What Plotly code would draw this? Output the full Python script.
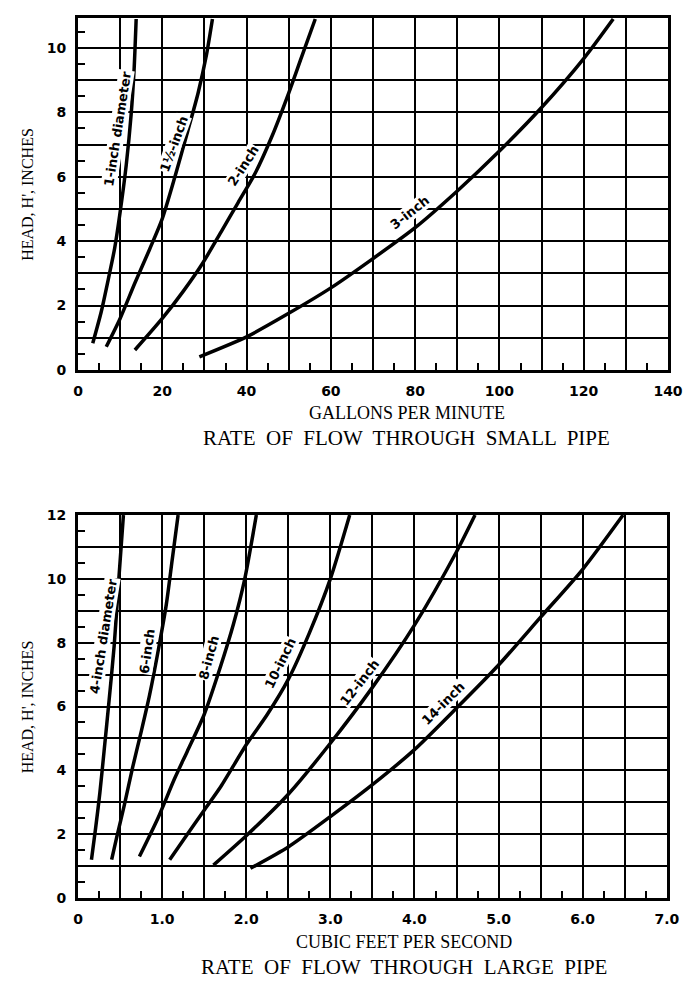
import plotly.graph_objects as go

# small pipe: gallons per minute vs head (inches)
gpm_1in = [3.5, 5.5, 7.0, 8.7, 9.9, 11.45, 12.6, 13.3, 13.8]
head_1in = [0.83, 1.8, 2.7, 3.78, 4.81, 6.37, 7.92, 9.3, 10.9]
gpm_1half = [6.7, 10.0, 13.5, 17.0, 20.0, 23.0, 26.0, 28.5, 30.5, 31.9]
head_1half = [0.72, 1.6, 2.7, 3.75, 4.7, 6.0, 7.4, 8.6, 9.8, 10.9]
gpm_2in = [13.5, 20, 25, 29.5, 34, 38, 42, 46, 50, 53, 56.3]
head_2in = [0.62, 1.6, 2.45, 3.3, 4.3, 5.2, 6.1, 7.25, 8.6, 9.7, 10.9]
gpm_3in = [28.8, 40, 50, 60, 70, 80, 90, 100, 110, 120, 127]
head_3in = [0.41, 1.03, 1.76, 2.55, 3.46, 4.42, 5.56, 6.8, 8.15, 9.67, 10.9]

# large pipe: cubic feet per second vs head (inches)
cfs_4in = [0.16, 0.21, 0.26, 0.31, 0.37, 0.43, 0.48, 0.54]
head_4in = [1.2, 2.2, 3.3, 4.6, 6.2, 7.9, 9.8, 12.0]
cfs_6in = [0.40, 0.46, 0.55, 0.65, 0.75, 0.85, 0.95, 1.05, 1.12, 1.19]
head_6in = [1.2, 1.9, 2.9, 4.1, 5.2, 6.35, 7.7, 9.2, 10.6, 12.0]
cfs_8in = [0.73, 0.95, 1.15, 1.3, 1.5, 1.7, 1.85, 1.98, 2.12]
head_8in = [1.3, 2.5, 3.75, 4.6, 5.75, 7.3, 8.6, 9.97, 12.0]
cfs_10in = [1.09, 1.3, 1.5, 1.7, 2.0, 2.25, 2.5, 2.75, 3.0, 3.23]
head_10in = [1.2, 2.0, 2.75, 3.5, 4.8, 5.75, 6.85, 8.3, 10.0, 12.0]
cfs_12in = [1.61, 2.0, 2.5, 3.0, 3.5, 4.0, 4.5, 4.72]
head_12in = [1.03, 1.95, 3.25, 4.85, 6.6, 8.55, 10.85, 12.0]
cfs_14in = [2.05, 2.5, 3.0, 3.5, 4.0, 4.5, 5.0, 5.5, 6.0, 6.48]
head_14in = [0.93, 1.6, 2.55, 3.55, 4.65, 5.95, 7.3, 8.8, 10.3, 12.0]

# curve labels: text, x, y, angle
small_labels = ["1-inch diameter", "1½-inch", "2-inch", "3-inch"]
small_label_x = [9.4, 22.9, 39.3, 78.7]
small_label_y = [7.5, 7.02, 6.34, 4.9]
small_label_angle = [-81, -70, -57, -38]
large_labels = ["4-inch diameter", "6-inch", "8-inch", "10-inch", "12-inch", "14-inch"]
large_label_x = [0.30, 0.823, 1.555, 2.40, 3.35, 4.34]
large_label_y = [8.2, 7.72, 7.54, 7.36, 6.74, 6.1]
large_label_angle = [-81, -82, -75, -64, -52, -45]

# ticks
small_x_vals = list(range(0, 141, 10))
small_x_text = ["0", "", "20", "", "40", "", "60", "", "80", "", "100", "", "120", "", "140"]
small_y_vals = list(range(0, 11))
small_y_text = ["0", "", "2", "", "4", "", "6", "", "8", "", "10"]
large_x_vals = [i * 0.5 for i in range(15)]
large_x_text = ["0", "", "1.0", "", "2.0", "", "3.0", "", "4.0", "", "5.0", "", "6.0", "", "7.0"]
large_y_vals = list(range(0, 13))
large_y_text = ["0", "", "2", "", "4", "", "6", "", "8", "", "10", "", "12"]

TICKFONT = dict(family="DejaVu Sans", size=14, color="black", weight="bold")
LABELFONT = dict(family="DejaVu Sans", size=13, color="black", weight="bold")
SERIF = "Liberation Serif"

fig = go.Figure()

small = [(gpm_1in, head_1in), (gpm_1half, head_1half), (gpm_2in, head_2in), (gpm_3in, head_3in)]
for x, y in small:
    fig.add_trace(go.Scatter(x=x, y=y, mode="lines", xaxis="x", yaxis="y",
                             line=dict(color="black", width=3.5, shape="spline", smoothing=0.7),
                             showlegend=False, hoverinfo="skip"))

large = [(cfs_4in, head_4in), (cfs_6in, head_6in), (cfs_8in, head_8in),
         (cfs_10in, head_10in), (cfs_12in, head_12in), (cfs_14in, head_14in)]
for x, y in large:
    fig.add_trace(go.Scatter(x=x, y=y, mode="lines", xaxis="x2", yaxis="y2",
                             line=dict(color="black", width=3.5, shape="spline", smoothing=0.7),
                             showlegend=False, hoverinfo="skip"))


def axis(vals, text, rng, minor_vals, domain, anchor):
    return dict(range=rng, domain=domain, anchor=anchor, automargin=False,
                tickmode="array", tickvals=vals, ticktext=text,
                showline=True, linecolor="black", linewidth=3, mirror=True,
                showgrid=True, gridcolor="black", gridwidth=2, zeroline=False,
                ticks="", ticklabelstandoff=6, tickfont=TICKFONT,
                minor=dict(tickvals=minor_vals, ticks="inside", ticklen=7,
                           tickwidth=2, tickcolor="black", showgrid=False))


fig.update_layout(
    width=695, height=992,
    margin=dict(l=78, r=27, t=18, b=94),
    paper_bgcolor="white", plot_bgcolor="white",
    xaxis=axis(small_x_vals, small_x_text, [0, 140], [v + 5 for v in range(0, 140, 10)], [0, 1], "y"),
    yaxis=axis(small_y_vals, small_y_text, [0, 10.93], [v + 0.5 for v in range(0, 11)], [0.6, 1], "x"),
    xaxis2=axis(large_x_vals, large_x_text, [0, 7], [v * 0.5 + 0.25 for v in range(14)], [0, 0.998], "y2"),
    yaxis2=axis(large_y_vals, large_y_text, [0, 12], [v + 0.5 for v in range(12)], [0, 0.4352], "x2"),
)

ann = []
for t, x, y, a in zip(small_labels, small_label_x, small_label_y, small_label_angle):
    ann.append(dict(text=t, x=x, y=y, xref="x", yref="y", textangle=a, showarrow=False,
                    font=LABELFONT, bgcolor="white", borderpad=0))
for t, x, y, a in zip(large_labels, large_label_x, large_label_y, large_label_angle):
    ann.append(dict(text=t, x=x, y=y, xref="x2", yref="y2", textangle=a, showarrow=False,
                    font=LABELFONT, bgcolor="white", borderpad=0))

# axis titles and captions
for yc in [0.8, 0.2176]:
    ann.append(dict(text="HEAD, H', INCHES", x=-0.085, y=yc, xref="paper", yref="paper",
                    xanchor="center", yanchor="middle", textangle=-90, showarrow=False,
                    font=dict(family=SERIF, size=16, color="black")))
captions = [("GALLONS PER MINUTE", 0.5576, 0.5511, 18),
            ("RATE  OF  FLOW  THROUGH  SMALL  PIPE", 0.5576, 0.5227, 21),
            ("CUBIC FEET PER SECOND", 0.5525, -0.0500, 18),
            ("RATE  OF  FLOW  THROUGH  LARGE  PIPE", 0.5525, -0.0784, 21)]
for t, x, y, s in captions:
    ann.append(dict(text=t, x=x, y=y, xref="paper", yref="paper", xanchor="center",
                    yanchor="middle", showarrow=False, font=dict(family=SERIF, size=s, color="black")))

fig.update_layout(annotations=ann)

fig.write_html("out.html", config={"displayModeBar": False},
               post_script="document.body.style.margin='0';")
